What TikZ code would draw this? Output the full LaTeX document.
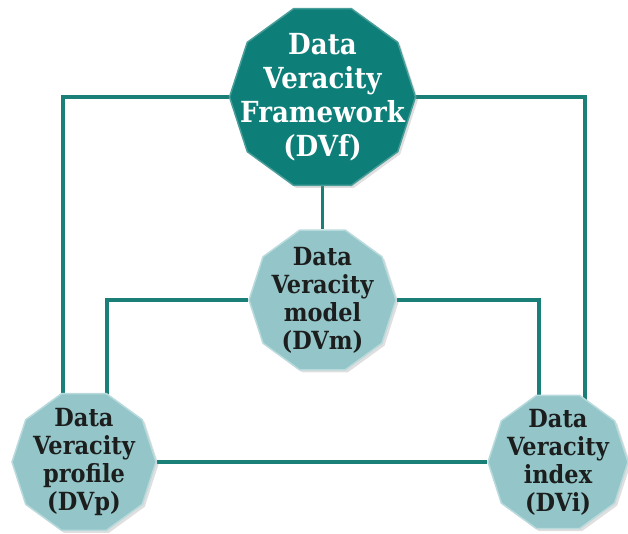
\documentclass[tikz,border=0pt]{standalone}
\usepackage{fontspec}
\usepackage{tikz}
\usetikzlibrary{shapes.geometric, shadows, backgrounds}
\newfontfamily\dvfont[FakeStretch=0.9]{DejaVu Serif}
\definecolor{dvdark}{RGB}{14, 126, 121}
\definecolor{dvlight}{RGB}{148, 198, 201}
\definecolor{dvline}{RGB}{26, 128, 119}
\definecolor{dvink}{RGB}{28, 30, 30}

\begin{document}
\begin{tikzpicture}[x=1pt, y=-1pt,
    decagon/.style={regular polygon, regular polygon sides=10, inner sep=0pt, line width=1.5pt,
        drop shadow={shadow xshift=2.5pt, shadow yshift=-2.5pt, opacity=0.25}},
    topnode/.style={decagon, fill=dvdark, draw=dvdark!75!white},
    subnode/.style={decagon, fill=dvlight, draw=dvlight!65!white},
    toplabel/.style={align=center, text=white, font=\dvfont\bfseries\fontsize{29}{34}\selectfont},
    sublabel/.style={align=center, text=dvink, font=\dvfont\bfseries\fontsize{25}{28}\selectfont},
    link/.style={draw=dvline, line width=3.5pt}]
    \useasboundingbox (0,0) rectangle (628,534);

    % Framework
    \node[topnode, minimum size=186pt, label={[toplabel]center:{Data\\Veracity\\Framework\\(DVf)}}] (dvf) at (322.5,97) {};

    % Model
    \node[subnode, minimum size=147pt, label={[sublabel]center:{Data\\Veracity\\model\\(DVm)}}] (dvm) at (322.5,300) {};

    % Profile and index
    \node[subnode, minimum size=144pt, label={[sublabel]center:{Data\\Veracity\\profile\\(DVp)}}] (dvp) at (84,462) {};
    \node[subnode, minimum size=140pt, label={[sublabel]center:{Data\\Veracity\\index\\(DVi)}}] (dvi) at (558,462) {};

    % Links
    \begin{scope}[on background layer]
        \draw[link] (dvf.west) -| ([xshift=-21pt]dvp.center);
        \draw[link] (dvf.east) -| ([xshift=27pt]dvi.center);
        \draw[link] (dvf.south) -- (dvm.north);
        \draw[link] (dvm.west) -| ([xshift=23pt]dvp.center);
        \draw[link] (dvm.east) -| ([xshift=-19pt]dvi.center);
        \draw[link] (dvp.east) -- (dvi.west);
    \end{scope}
\end{tikzpicture}
\end{document}
